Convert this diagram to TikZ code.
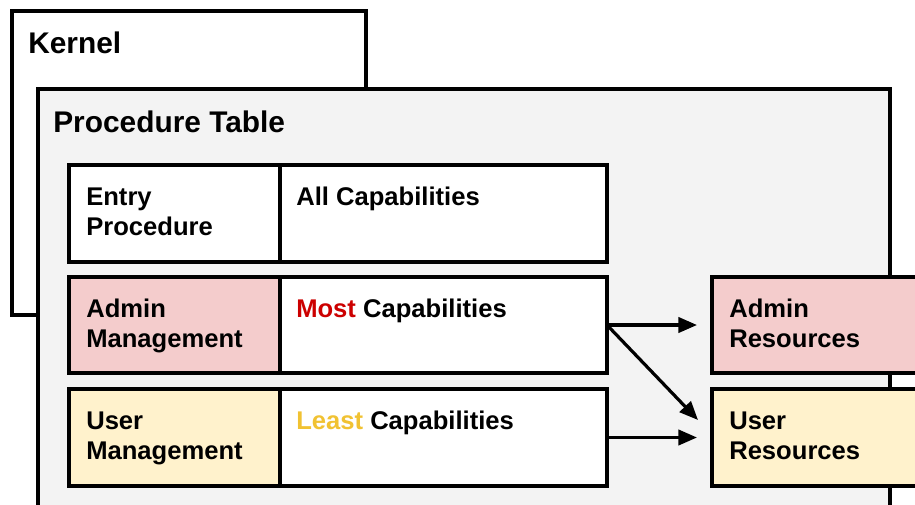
\documentclass[tikz,border=0pt]{standalone}
\usepackage{fontspec}
\setmainfont{Liberation Sans}
\usetikzlibrary{arrows.meta,calc}
\definecolor{pinkfill}{HTML}{F4CCCC}
\definecolor{yelfill}{HTML}{FFF2CC}
\definecolor{grayfill}{HTML}{F3F3F3}
\definecolor{redtxt}{HTML}{CC0000}
\definecolor{yeltxt}{HTML}{F1C232}
\tikzset{
  box/.style={draw=black,line width=3pt,rectangle,inner sep=0pt,outer sep=0pt},
  cell/.style={box,minimum height=72.75pt},
  lcell/.style={cell,minimum width=158.25pt},
  rcell/.style={cell,minimum width=245.25pt,fill=white},
  rescell/.style={cell,minimum width=167.25pt},
  title/.style={anchor=base west,inner sep=0pt,font=\fontsize{22.4pt}{27pt}\selectfont\bfseries},
  txt/.style={anchor=base west,inner sep=0pt,font=\fontsize{19.2pt}{23pt}\selectfont\bfseries},
  arr/.style={line width=2.4pt,-{Triangle[length=14pt,width=11.5pt]}}
}
\begin{document}
\begin{tikzpicture}[x=0.75pt,y=-0.75pt]
\useasboundingbox (0,0) rectangle (915,504);
\clip (0,0) rectangle (915,504);
% kernel
\node[box,fill=white,minimum width=265.5pt,minimum height=228pt] (kernel) at (189,163) {};
\node[title] (kerneltxt) at (28,53) {Kernel};
% procedure table
\node[box,fill=grayfill,minimum width=639pt,minimum height=323.25pt] (ptable) at (464,304.5) {};
\node[title] (ptabletxt) at (53,132) {Procedure Table};
% row 1
\node[lcell,fill=white] (entry) at (174.5,213.5) {};
\node[rcell] (all) at (443.5,213.5) {};
\node[txt] (entry1) at (86,205) {Entry};
\node[txt] (entry2) at (86,235) {Procedure};
\node[txt] (alltxt) at (296,205) {All Capabilities};
% row 2
\node[lcell,fill=pinkfill,minimum height=72pt] (admin) at (174.5,325) {};
\node[rcell,minimum height=72pt] (most) at (443.5,325) {};
\node[txt] (admin1) at (86,317) {Admin};
\node[txt] (admin2) at (86,347) {Management};
\node[txt] (mosttxt) at (296,317) {\textcolor{redtxt}{Most} Capabilities};
% row 3
\node[lcell,fill=yelfill] (user) at (174.5,437.5) {};
\node[rcell] (least) at (443.5,437.5) {};
\node[txt] (user1) at (86,429) {User};
\node[txt] (user2) at (86,459) {Management};
\node[txt] (leasttxt) at (296,429) {\textcolor{yeltxt}{Least} Capabilities};
% resources
\node[rescell,fill=pinkfill,minimum height=72pt] (adminres) at (823.5,325) {};
\node[txt] (adminres1) at (729,317) {Admin};
\node[txt] (adminres2) at (729,347) {Resources};
\node[rescell,fill=yelfill] (userres) at (823.5,437.5) {};
\node[txt] (userres1) at (729,429) {User};
\node[txt] (userres2) at (729,459) {Resources};
% arrows
\draw[arr] (most.east) -- ($(adminres.west)+(-15,0)$);
\draw[arr] (most.east) -- ($(userres.west)+(-14,-17.5)$);
\draw[arr] (least.east) -- ($(userres.west)+(-15,0)$);
\end{tikzpicture}
\end{document}
